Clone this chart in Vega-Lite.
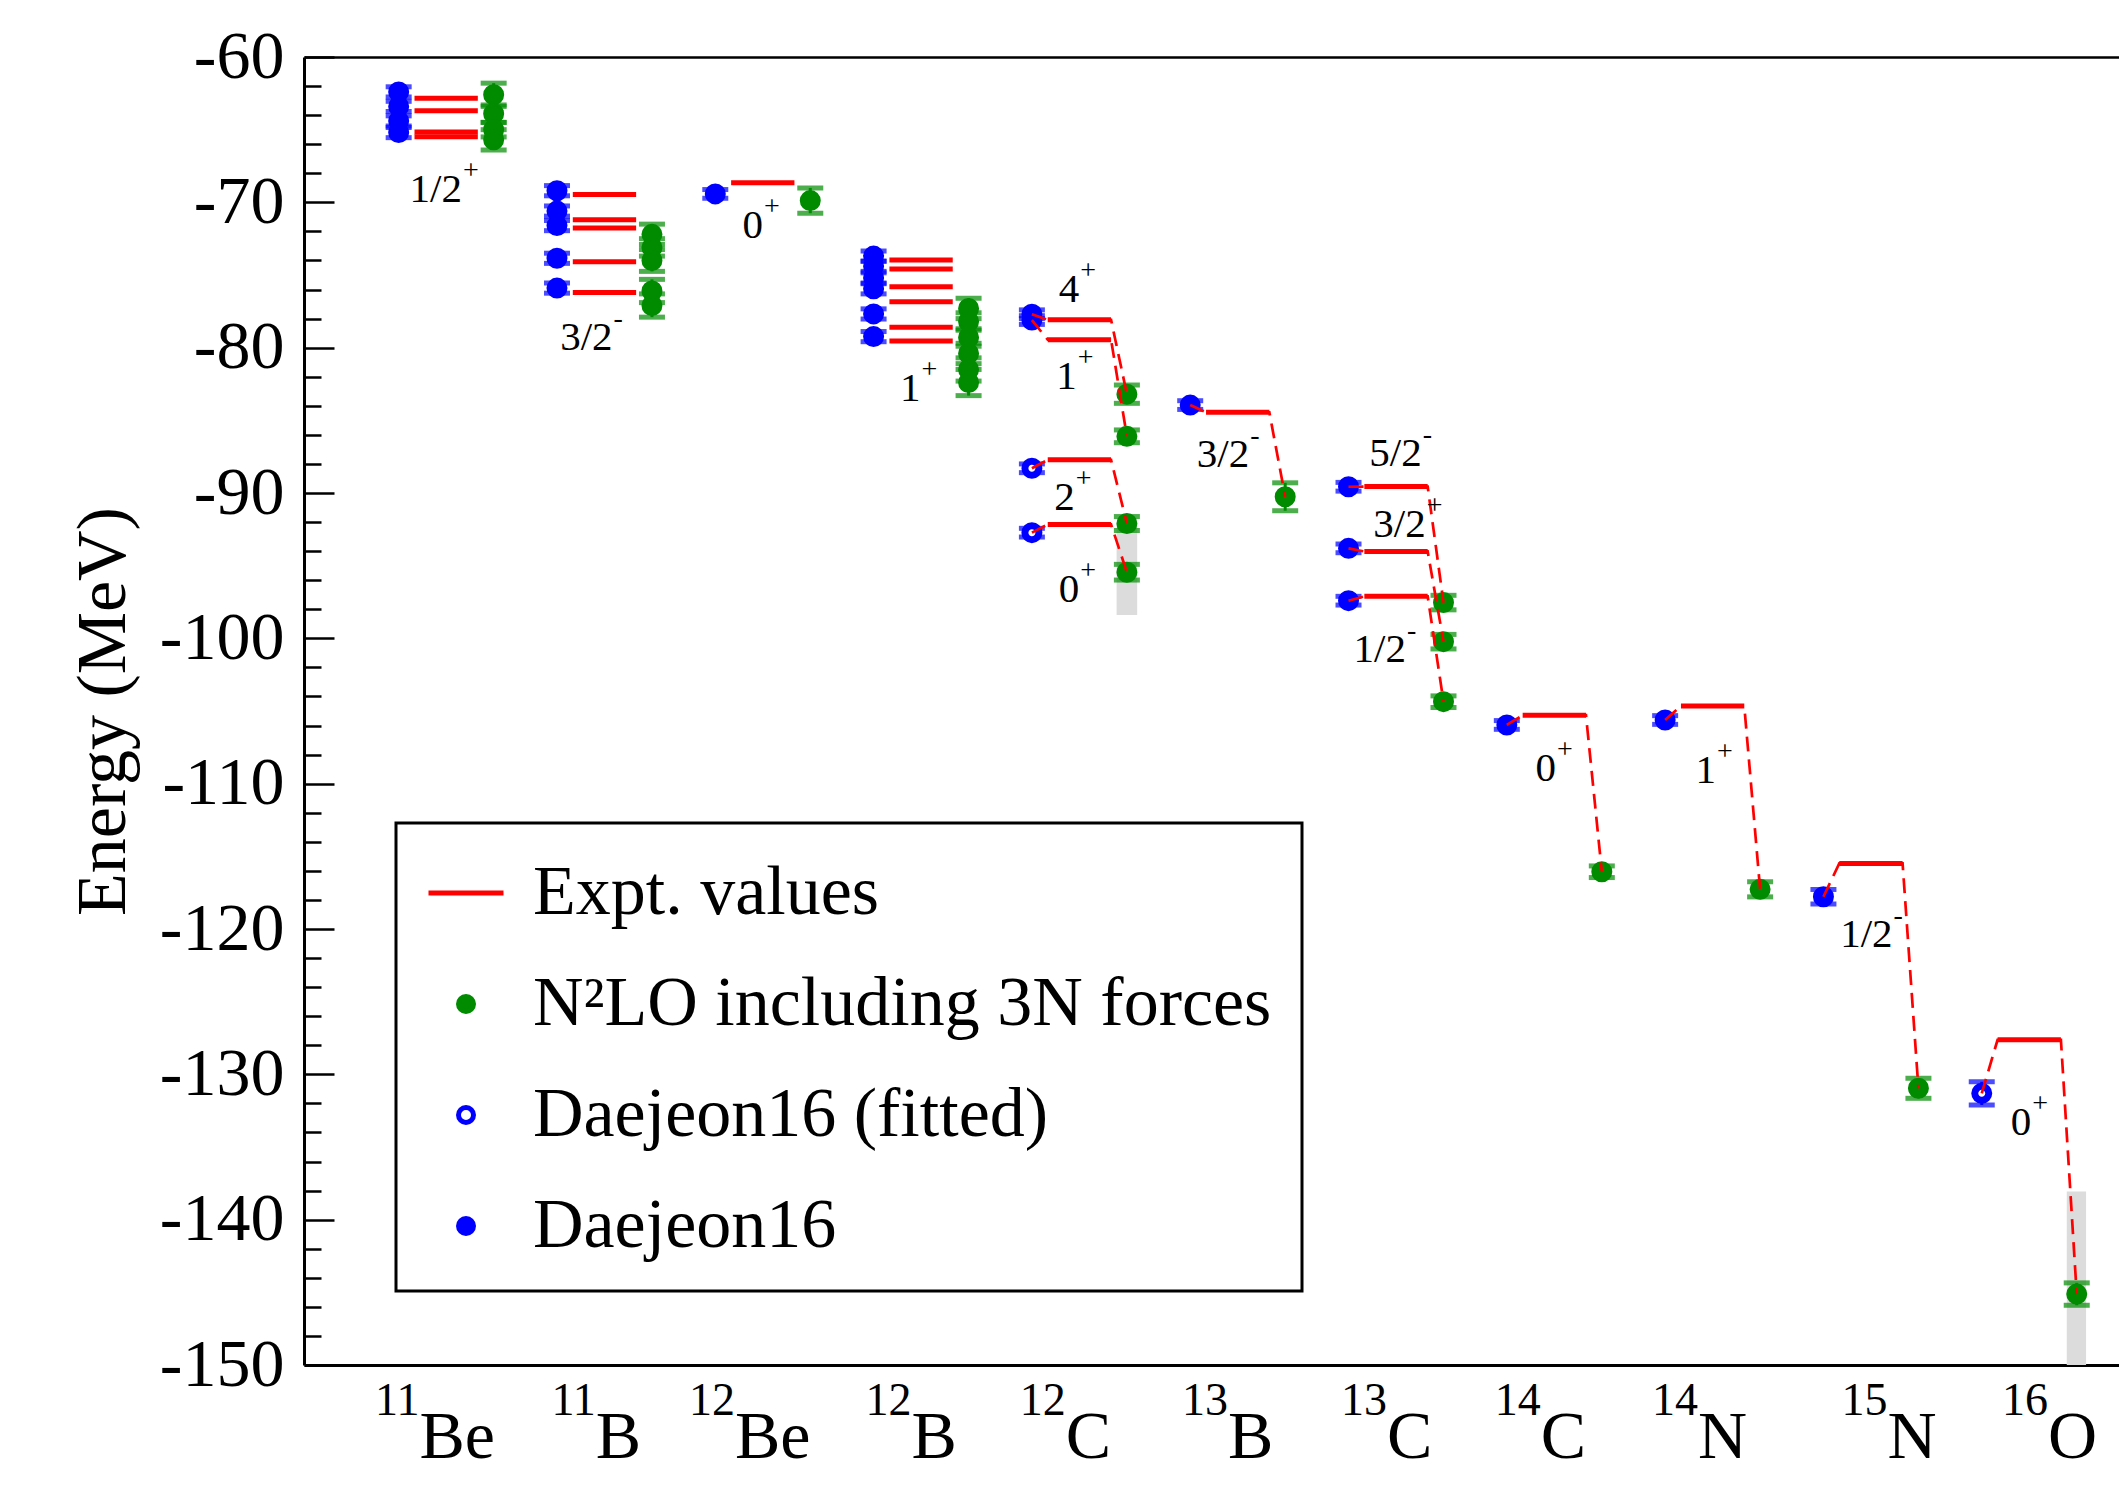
{
  "$schema": "https://vega.github.io/schema/vega-lite/v6.json",
  "width": 1815,
  "height": 1308,
  "autosize": {"type": "none"},
  "padding": {"left": 304, "top": 57, "right": 0, "bottom": 129},
  "background": "white",
  "config": {
    "view": {"stroke": null},
    "font": "Liberation Serif",
    "axisY": {
      "tickWidth": 2.5,
      "tickColor": "black",
      "domainColor": "black",
      "domainWidth": 3,
      "labelFont": "Liberation Serif",
      "labelFontSize": 68,
      "labelColor": "black",
      "labelFlush": false,
      "labelOverlap": false,
      "grid": false,
      "titleFont": "Liberation Serif",
      "titleFontSize": 70,
      "titleFontWeight": "normal",
      "titleColor": "black"
    },
    "legend": {
      "orient": "none",
      "legendX": 92,
      "legendY": 766,
      "padding": 30,
      "strokeColor": "black",
      "strokeWidth": 3,
      "fillColor": "white",
      "labelFont": "Liberation Serif",
      "labelFontSize": 70,
      "labelColor": "black",
      "labelOffset": 27,
      "labelLimit": 0,
      "symbolSize": 5625,
      "symbolStrokeWidth": 5,
      "rowPadding": 36
    }
  },
  "datasets": {
    "bands": [
      {"x1": 5.535, "x2": 5.665, "E": -92.1, "E2": -98.4},
      {"x1": 11.537, "x2": 11.659, "E": -138.07, "E2": -150}
    ],
    "pts": [
      {"x": 1, "E": -62.4, "err": 0.35, "s": "Daejeon16"},
      {"x": 1, "E": -63.4, "err": 0.35, "s": "Daejeon16"},
      {"x": 1, "E": -64.4, "err": 0.35, "s": "Daejeon16"},
      {"x": 1, "E": -65.2, "err": 0.35, "s": "Daejeon16"},
      {"x": 2, "E": -69.2, "err": 0.35, "s": "Daejeon16"},
      {"x": 2, "E": -70.6, "err": 0.35, "s": "Daejeon16"},
      {"x": 2, "E": -71.6, "err": 0.35, "s": "Daejeon16"},
      {"x": 2, "E": -73.85, "err": 0.35, "s": "Daejeon16"},
      {"x": 2, "E": -75.9, "err": 0.35, "s": "Daejeon16"},
      {"x": 3, "E": -69.42, "err": 0.3, "s": "Daejeon16"},
      {"x": 4, "E": -73.7, "err": 0.35, "s": "Daejeon16"},
      {"x": 4, "E": -74.4, "err": 0.35, "s": "Daejeon16"},
      {"x": 4, "E": -75.2, "err": 0.35, "s": "Daejeon16"},
      {"x": 4, "E": -75.95, "err": 0.35, "s": "Daejeon16"},
      {"x": 4, "E": -77.68, "err": 0.35, "s": "Daejeon16"},
      {"x": 4, "E": -79.24, "err": 0.35, "s": "Daejeon16"},
      {"x": 5, "E": -77.7, "err": 0.3, "s": "Daejeon16"},
      {"x": 5, "E": -78.1, "err": 0.3, "s": "Daejeon16"},
      {"x": 5, "E": -88.3, "err": 0.3, "s": "Daejeon16 (fitted)"},
      {"x": 5, "E": -92.73, "err": 0.3, "s": "Daejeon16 (fitted)"},
      {"x": 6, "E": -83.95, "err": 0.3, "s": "Daejeon16"},
      {"x": 7, "E": -89.57, "err": 0.3, "s": "Daejeon16"},
      {"x": 7, "E": -93.81, "err": 0.3, "s": "Daejeon16"},
      {"x": 7, "E": -97.41, "err": 0.3, "s": "Daejeon16"},
      {"x": 8, "E": -105.96, "err": 0.3, "s": "Daejeon16"},
      {"x": 9, "E": -105.62, "err": 0.3, "s": "Daejeon16"},
      {"x": 10, "E": -117.78, "err": 0.5, "s": "Daejeon16"},
      {"x": 11, "E": -131.31, "err": 0.8, "s": "Daejeon16 (fitted)"},
      {"x": 1.6, "E": -62.6, "err": 0.8, "s": "N²LO including 3N forces"},
      {"x": 1.6, "E": -63.9, "err": 0.6, "s": "N²LO including 3N forces"},
      {"x": 1.6, "E": -65.0, "err": 0.5, "s": "N²LO including 3N forces"},
      {"x": 1.6, "E": -65.7, "err": 0.7, "s": "N²LO including 3N forces"},
      {"x": 2.6, "E": -72.2, "err": 0.7, "s": "N²LO including 3N forces"},
      {"x": 2.6, "E": -73.1, "err": 0.6, "s": "N²LO including 3N forces"},
      {"x": 2.6, "E": -74.0, "err": 0.75, "s": "N²LO including 3N forces"},
      {"x": 2.6, "E": -76.1, "err": 0.8, "s": "N²LO including 3N forces"},
      {"x": 2.6, "E": -77.1, "err": 0.8, "s": "N²LO including 3N forces"},
      {"x": 3.6, "E": -69.88, "err": 0.87, "s": "N²LO including 3N forces"},
      {"x": 4.6, "E": -77.3, "err": 0.7, "s": "N²LO including 3N forces"},
      {"x": 4.6, "E": -78.2, "err": 0.6, "s": "N²LO including 3N forces"},
      {"x": 4.6, "E": -79.3, "err": 0.6, "s": "N²LO including 3N forces"},
      {"x": 4.6, "E": -80.4, "err": 0.7, "s": "N²LO including 3N forces"},
      {"x": 4.6, "E": -81.5, "err": 0.8, "s": "N²LO including 3N forces"},
      {"x": 4.6, "E": -82.4, "err": 0.9, "s": "N²LO including 3N forces"},
      {"x": 5.6, "E": -83.2, "err": 0.63, "s": "N²LO including 3N forces"},
      {"x": 5.6, "E": -86.1, "err": 0.44, "s": "N²LO including 3N forces"},
      {"x": 5.6, "E": -92.1, "err": 0.48, "s": "N²LO including 3N forces"},
      {"x": 5.6, "E": -95.45, "err": 0.54, "s": "N²LO including 3N forces"},
      {"x": 6.6, "E": -90.26, "err": 0.96, "s": "N²LO including 3N forces"},
      {"x": 7.6, "E": -97.54, "err": 0.5, "s": "N²LO including 3N forces"},
      {"x": 7.6, "E": -100.23, "err": 0.5, "s": "N²LO including 3N forces"},
      {"x": 7.6, "E": -104.36, "err": 0.4, "s": "N²LO including 3N forces"},
      {"x": 8.6, "E": -116.06, "err": 0.4, "s": "N²LO including 3N forces"},
      {"x": 9.6, "E": -117.27, "err": 0.52, "s": "N²LO including 3N forces"},
      {"x": 10.6, "E": -130.96, "err": 0.69, "s": "N²LO including 3N forces"},
      {"x": 11.6, "E": -145.12, "err": 0.77, "s": "N²LO including 3N forces"}
    ],
    "expt": [
      {"x1": 1.1, "x2": 1.5, "E": -62.83, "s": "Expt. values"},
      {"x1": 1.1, "x2": 1.5, "E": -63.70, "s": "Expt. values"},
      {"x1": 1.1, "x2": 1.5, "E": -65.16, "s": "Expt. values"},
      {"x1": 1.1, "x2": 1.5, "E": -65.48, "s": "Expt. values"},
      {"x1": 2.1, "x2": 2.5, "E": -69.46, "s": "Expt. values"},
      {"x1": 2.1, "x2": 2.5, "E": -71.19, "s": "Expt. values"},
      {"x1": 2.1, "x2": 2.5, "E": -71.76, "s": "Expt. values"},
      {"x1": 2.1, "x2": 2.5, "E": -74.08, "s": "Expt. values"},
      {"x1": 2.1, "x2": 2.5, "E": -76.205, "s": "Expt. values"},
      {"x1": 3.1, "x2": 3.5, "E": -68.65, "s": "Expt. values"},
      {"x1": 4.1, "x2": 4.5, "E": -73.97, "s": "Expt. values"},
      {"x1": 4.1, "x2": 4.5, "E": -74.59, "s": "Expt. values"},
      {"x1": 4.1, "x2": 4.5, "E": -75.80, "s": "Expt. values"},
      {"x1": 4.1, "x2": 4.5, "E": -76.84, "s": "Expt. values"},
      {"x1": 4.1, "x2": 4.5, "E": -78.60, "s": "Expt. values"},
      {"x1": 4.1, "x2": 4.5, "E": -79.54, "s": "Expt. values"},
      {"x1": 5.1, "x2": 5.5, "E": -78.08, "s": "Expt. values"},
      {"x1": 5.1, "x2": 5.5, "E": -79.45, "s": "Expt. values"},
      {"x1": 5.1, "x2": 5.5, "E": -87.72, "s": "Expt. values"},
      {"x1": 5.1, "x2": 5.5, "E": -92.16, "s": "Expt. values"},
      {"x1": 6.1, "x2": 6.5, "E": -84.45, "s": "Expt. values"},
      {"x1": 7.1, "x2": 7.5, "E": -89.56, "s": "Expt. values"},
      {"x1": 7.1, "x2": 7.5, "E": -94.02, "s": "Expt. values"},
      {"x1": 7.1, "x2": 7.5, "E": -97.108, "s": "Expt. values"},
      {"x1": 8.1, "x2": 8.5, "E": -105.285, "s": "Expt. values"},
      {"x1": 9.1, "x2": 9.5, "E": -104.66, "s": "Expt. values"},
      {"x1": 10.1, "x2": 10.5, "E": -115.49, "s": "Expt. values"},
      {"x1": 11.1, "x2": 11.5, "E": -127.62, "s": "Expt. values"}
    ],
    "conn": [
      {"g": "12C-4", "o": 1, "x": 5, "E": -77.7}, {"g": "12C-4", "o": 2, "x": 5.1, "E": -78.08}, {"g": "12C-4", "o": 3, "x": 5.5, "E": -78.08}, {"g": "12C-4", "o": 4, "x": 5.6, "E": -83.2},
      {"g": "12C-1", "o": 1, "x": 5, "E": -78.1}, {"g": "12C-1", "o": 2, "x": 5.1, "E": -79.45}, {"g": "12C-1", "o": 3, "x": 5.5, "E": -79.45}, {"g": "12C-1", "o": 4, "x": 5.6, "E": -86.1},
      {"g": "12C-2", "o": 1, "x": 5, "E": -88.3}, {"g": "12C-2", "o": 2, "x": 5.1, "E": -87.72}, {"g": "12C-2", "o": 3, "x": 5.5, "E": -87.72}, {"g": "12C-2", "o": 4, "x": 5.6, "E": -92.1},
      {"g": "12C-0", "o": 1, "x": 5, "E": -92.73}, {"g": "12C-0", "o": 2, "x": 5.1, "E": -92.16}, {"g": "12C-0", "o": 3, "x": 5.5, "E": -92.16}, {"g": "12C-0", "o": 4, "x": 5.6, "E": -95.45},
      {"g": "13B", "o": 1, "x": 6, "E": -83.95}, {"g": "13B", "o": 2, "x": 6.1, "E": -84.45}, {"g": "13B", "o": 3, "x": 6.5, "E": -84.45}, {"g": "13B", "o": 4, "x": 6.6, "E": -90.26},
      {"g": "13C-5", "o": 1, "x": 7, "E": -89.57}, {"g": "13C-5", "o": 2, "x": 7.1, "E": -89.56}, {"g": "13C-5", "o": 3, "x": 7.5, "E": -89.56}, {"g": "13C-5", "o": 4, "x": 7.6, "E": -97.54},
      {"g": "13C-3", "o": 1, "x": 7, "E": -93.81}, {"g": "13C-3", "o": 2, "x": 7.1, "E": -94.02}, {"g": "13C-3", "o": 3, "x": 7.5, "E": -94.02}, {"g": "13C-3", "o": 4, "x": 7.6, "E": -100.23},
      {"g": "13C-1", "o": 1, "x": 7, "E": -97.41}, {"g": "13C-1", "o": 2, "x": 7.1, "E": -97.108}, {"g": "13C-1", "o": 3, "x": 7.5, "E": -97.108}, {"g": "13C-1", "o": 4, "x": 7.6, "E": -104.36},
      {"g": "14C", "o": 1, "x": 8, "E": -105.96}, {"g": "14C", "o": 2, "x": 8.1, "E": -105.285}, {"g": "14C", "o": 3, "x": 8.5, "E": -105.285}, {"g": "14C", "o": 4, "x": 8.6, "E": -116.06},
      {"g": "14N", "o": 1, "x": 9, "E": -105.62}, {"g": "14N", "o": 2, "x": 9.1, "E": -104.66}, {"g": "14N", "o": 3, "x": 9.5, "E": -104.66}, {"g": "14N", "o": 4, "x": 9.6, "E": -117.27},
      {"g": "15N", "o": 1, "x": 10, "E": -117.78}, {"g": "15N", "o": 2, "x": 10.1, "E": -115.49}, {"g": "15N", "o": 3, "x": 10.5, "E": -115.49}, {"g": "15N", "o": 4, "x": 10.6, "E": -130.96},
      {"g": "16O", "o": 1, "x": 11, "E": -131.31}, {"g": "16O", "o": 2, "x": 11.1, "E": -127.62}, {"g": "16O", "o": 3, "x": 11.5, "E": -127.62}, {"g": "16O", "o": 4, "x": 11.6, "E": -145.12}
    ],
    "spins": [
      {"x": 1.400, "E": -69.96, "main": "1/2", "sup": "+"},
      {"x": 2.351, "E": -80.16, "main": "3/2", "sup": "-"},
      {"x": 3.301, "E": -72.48, "main": "0", "sup": "+"},
      {"x": 4.296, "E": -83.67, "main": "1", "sup": "+"},
      {"x": 5.299, "E": -76.84, "main": "4", "sup": "+"},
      {"x": 5.284, "E": -82.87, "main": "1", "sup": "+"},
      {"x": 5.270, "E": -91.17, "main": "2", "sup": "+"},
      {"x": 5.299, "E": -97.48, "main": "0", "sup": "+"},
      {"x": 6.373, "E": -88.23, "main": "3/2", "sup": "-"},
      {"x": 7.462, "E": -88.14, "main": "5/2", "sup": "-"},
      {"x": 7.488, "E": -93.01, "main": "3/2", "sup": "+"},
      {"x": 7.363, "E": -101.61, "main": "1/2", "sup": "-"},
      {"x": 8.311, "E": -109.82, "main": "0", "sup": "+"},
      {"x": 9.322, "E": -109.98, "main": "1", "sup": "+"},
      {"x": 10.437, "E": -121.22, "main": "1/2", "sup": "-"},
      {"x": 11.312, "E": -134.18, "main": "0", "sup": "+"}
    ],
    "nuclei": [
      {"x": 1.131, "A": "11", "el": "Be"},
      {"x": 2.245, "A": "11", "el": "B"},
      {"x": 3.124, "A": "12", "el": "Be"},
      {"x": 4.239, "A": "12", "el": "B"},
      {"x": 5.214, "A": "12", "el": "C"},
      {"x": 6.239, "A": "13", "el": "B"},
      {"x": 7.243, "A": "13", "el": "C"},
      {"x": 8.215, "A": "14", "el": "C"},
      {"x": 9.208, "A": "14", "el": "N"},
      {"x": 10.404, "A": "15", "el": "N"},
      {"x": 11.419, "A": "16", "el": "O"}
    ]
  },
  "resolve": {"axis": {"x": "independent", "y": "independent"}},
  "layer": [
    {
      "data": {"name": "bands"},
      "mark": {"type": "rect", "color": "#dcdcdc"},
      "encoding": {
        "x": {"field": "x1", "type": "quantitative", "scale": {"domain": [0.402, 11.867], "nice": false, "zero": false},
              "axis": {"orient": "top", "ticks": false, "labels": false, "title": null, "domainColor": "black", "domainWidth": 2.5, "grid": false}},
        "x2": {"field": "x2"},
        "y": {"field": "E", "type": "quantitative", "scale": {"domain": [-150, -60], "nice": false, "zero": false},
              "axis": {"orient": "left", "title": "Energy (MeV)", "values": [-150, -140, -130, -120, -110, -100, -90, -80, -70, -60],
                       "labelExpr": "toString(datum.value)", "tickSize": -30, "labelPadding": 50, "titlePadding": 20}},
        "y2": {"field": "E2"}
      }
    },
    {
      "data": {"name": "pts"},
      "transform": [{"filter": "datum.s === 'N²LO including 3N forces'"}],
      "mark": {"type": "errorbar", "color": "#008b00", "ticks": {"thickness": 5}, "rule": {"strokeWidth": 3}, "size": 26},
      "encoding": {
        "x": {"field": "x", "type": "quantitative", "axis": null},
        "y": {"field": "E", "type": "quantitative", "axis": null},
        "yError": {"field": "err"}
      }
    },
    {
      "data": {"name": "pts"},
      "transform": [{"filter": "datum.s !== 'N²LO including 3N forces'"}],
      "mark": {"type": "errorbar", "color": "#0000ff", "ticks": {"thickness": 5}, "rule": {"strokeWidth": 3}, "size": 26},
      "encoding": {
        "x": {"field": "x", "type": "quantitative", "axis": null},
        "y": {"field": "E", "type": "quantitative", "axis": null},
        "yError": {"field": "err"}
      }
    },
    {
      "data": {"name": "pts"},
      "transform": [{"filter": "datum.s !== 'Daejeon16 (fitted)'"}],
      "mark": {"type": "point", "size": 8100, "strokeWidth": 3, "opacity": 1},
      "encoding": {
        "x": {"field": "x", "type": "quantitative", "axis": null},
        "y": {"field": "E", "type": "quantitative", "axis": null},
        "stroke": {"field": "s", "type": "nominal", "legend": {"title": null},
                   "scale": {"domain": ["Expt. values", "N²LO including 3N forces", "Daejeon16 (fitted)", "Daejeon16"], "range": ["#ff0000", "#008b00", "#0000ff", "#0000ff"]}},
        "fill": {"field": "s", "type": "nominal", "legend": {"title": null},
                 "scale": {"domain": ["Expt. values", "N²LO including 3N forces", "Daejeon16 (fitted)", "Daejeon16"], "range": ["#ff0000", "#008b00", "#ffffff", "#0000ff"]}},
        "shape": {"field": "s", "type": "nominal", "legend": {"title": null},
                  "scale": {"domain": ["Expt. values", "N²LO including 3N forces", "Daejeon16 (fitted)", "Daejeon16"],
                            "range": ["M-1,0H1", "M-0.2,0A0.2,0.2 0 1,0 0.2,0A0.2,0.2 0 1,0 -0.2,0Z", "M-0.2,0A0.2,0.2 0 1,0 0.2,0A0.2,0.2 0 1,0 -0.2,0Z", "M-0.2,0A0.2,0.2 0 1,0 0.2,0A0.2,0.2 0 1,0 -0.2,0Z"]}}
      }
    },
    {
      "data": {"name": "pts"},
      "transform": [{"filter": "datum.s === 'Daejeon16 (fitted)'"}],
      "mark": {"type": "point", "size": 4900, "strokeWidth": 7, "opacity": 1},
      "encoding": {
        "x": {"field": "x", "type": "quantitative", "axis": null},
        "y": {"field": "E", "type": "quantitative", "axis": null},
        "stroke": {"field": "s", "type": "nominal", "legend": {"title": null}},
        "fill": {"field": "s", "type": "nominal", "legend": {"title": null}},
        "shape": {"field": "s", "type": "nominal", "legend": {"title": null}}
      }
    },
    {
      "data": {"name": "expt"},
      "mark": {"type": "rule", "strokeWidth": 5, "strokeCap": "butt"},
      "encoding": {
        "x": {"field": "x1", "type": "quantitative",
              "axis": {"orient": "bottom", "ticks": false, "labels": false, "title": null, "domainColor": "black", "domainWidth": 3, "grid": false}},
        "x2": {"field": "x2"},
        "y": {"field": "E", "type": "quantitative",
              "axis": {"orient": "left", "title": null, "labels": false, "domain": false, "tickSize": -17,
                       "values": [-148,-146,-144,-142,-138,-136,-134,-132,-128,-126,-124,-122,-118,-116,-114,-112,-108,-106,-104,-102,-98,-96,-94,-92,-88,-86,-84,-82,-78,-76,-74,-72,-68,-66,-64,-62]}},
        "stroke": {"field": "s", "type": "nominal", "legend": {"title": null}}
      }
    },
    {
      "data": {"name": "conn"},
      "mark": {"type": "line", "color": "#ff0000", "strokeWidth": 2.7, "strokeDash": [15, 8]},
      "encoding": {
        "x": {"field": "x", "type": "quantitative", "axis": null},
        "y": {"field": "E", "type": "quantitative", "axis": null},
        "detail": {"field": "g", "type": "nominal"},
        "order": {"field": "o", "type": "quantitative"}
      }
    },
    {
      "data": {"name": "spins"},
      "mark": {"type": "text", "align": "right", "baseline": "alphabetic", "font": "Liberation Serif", "fontSize": 41, "color": "black"},
      "encoding": {
        "x": {"field": "x", "type": "quantitative", "axis": null},
        "y": {"field": "E", "type": "quantitative", "axis": null},
        "text": {"field": "main"}
      }
    },
    {
      "data": {"name": "spins"},
      "mark": {"type": "text", "align": "left", "baseline": "alphabetic", "font": "Liberation Serif", "fontSize": 28, "color": "black", "dy": -23, "dx": 1},
      "encoding": {
        "x": {"field": "x", "type": "quantitative", "axis": null},
        "y": {"field": "E", "type": "quantitative", "axis": null},
        "text": {"field": "sup"}
      }
    },
    {
      "data": {"name": "nuclei"},
      "mark": {"type": "text", "align": "left", "baseline": "alphabetic", "font": "Liberation Serif", "fontSize": 68, "color": "black", "dy": 93},
      "encoding": {
        "x": {"field": "x", "type": "quantitative", "axis": null},
        "y": {"datum": -150, "type": "quantitative", "axis": null},
        "text": {"field": "el"}
      }
    },
    {
      "data": {"name": "nuclei"},
      "mark": {"type": "text", "align": "right", "baseline": "alphabetic", "font": "Liberation Serif", "fontSize": 46, "color": "black", "dy": 50},
      "encoding": {
        "x": {"field": "x", "type": "quantitative", "axis": null},
        "y": {"datum": -150, "type": "quantitative", "axis": null},
        "text": {"field": "A"}
      }
    }
  ]
}
